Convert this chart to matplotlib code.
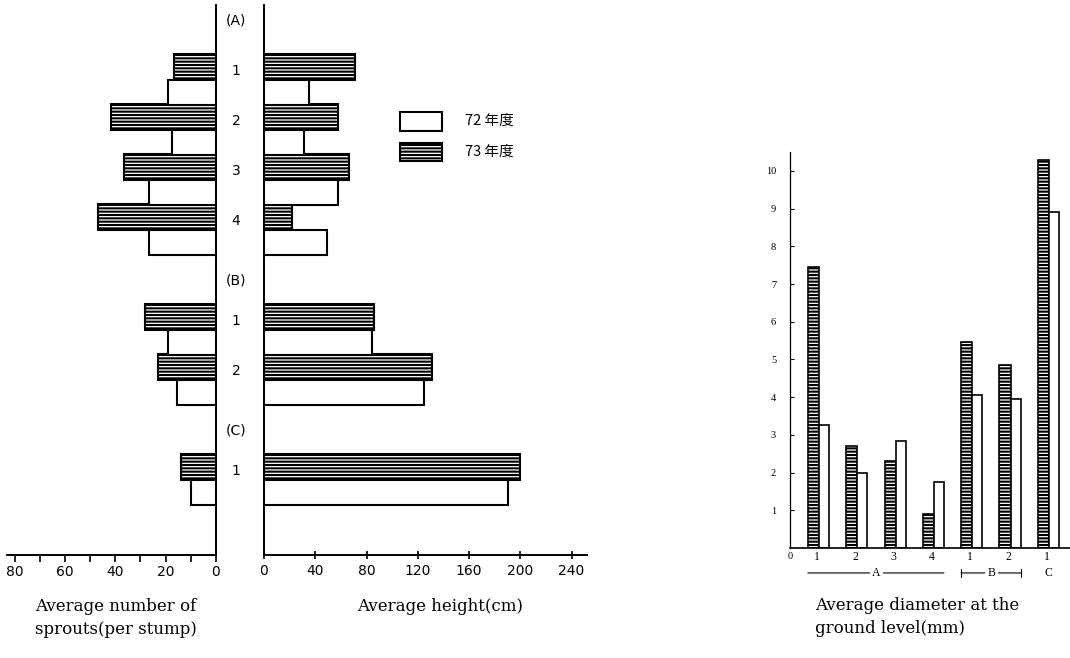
import matplotlib
matplotlib.use("Agg")
import matplotlib.pyplot as plt
from matplotlib.patches import Rectangle
from matplotlib.transforms import blended_transform_factory

plt.rcParams["hatch.linewidth"] = 1.5

# stand groups / plots
groups = ["A", "A", "A", "A", "B", "B", "C"]
plots = ["1", "2", "3", "4", "1", "2", "1"]

# average number of sprouts per stump
sprouts_72 = [19, 17.5, 26.5, 26.5, 19, 15.5, 10]
sprouts_73 = [16.5, 41.5, 36.5, 47, 28, 23, 14]

# average height (cm)
height_72 = [35, 31, 58, 49, 84, 125, 190]
height_73 = [71, 58, 66, 22, 86, 131, 200]

# average diameter at the ground level (mm)
diam_72 = [3.25, 2.0, 2.85, 1.75, 4.05, 3.95, 8.9]
diam_73 = [7.45, 2.7, 2.3, 0.9, 5.45, 4.85, 10.3]

year_labels = ["72 年度", "73 年度"]

W, H = 1070, 658


def px(x0, y0, x1, y1):
    """Pixel box (top-left origin) -> figure fraction rect."""
    return [x0 / W, (H - y1) / H, (x1 - x0) / W, (y1 - y0) / H]


# slot positions: a blank slot between groups (used for the group header)
slots = []
s = 0
for i, g in enumerate(groups):
    if i > 0 and g != groups[i - 1]:
        s += 1
    slots.append(s)
    s += 1
group_first = {}
for g, sl in zip(groups, slots):
    group_first.setdefault(g, sl)

fig = plt.figure(figsize=(W / 100, H / 100), dpi=100)
serif = "DejaVu Serif"
cjk = ["Noto Sans CJK JP", "DejaVu Sans"]
HATCH = "-----"

# ---- left: number of sprouts ----
ax_l = fig.add_axes(px(7, 5, 216, 555))
ax_l.barh([v - 0.26 for v in slots], sprouts_73, height=0.52, color="white",
          edgecolor="black", hatch=HATCH, linewidth=1.5)
ax_l.barh([v + 0.25 for v in slots], sprouts_72, height=0.5, color="white",
          edgecolor="black", linewidth=1.5)
ax_l.set_xlim(83, 0)
ax_l.set_ylim(9.5, -1.5)
ax_l.spines["top"].set_visible(False)
ax_l.spines["left"].set_visible(False)
ax_l.spines["right"].set_linewidth(1.4)
ax_l.spines["bottom"].set_linewidth(1.4)
ax_l.set_yticks([])
ax_l.set_xticks([80, 60, 40, 20, 0])
ax_l.set_xticks([70, 50, 30, 10], minor=True)
ax_l.tick_params(axis="x", which="both", direction="out", length=5, width=1.2, labelsize=10,
                 pad=2)

# ---- middle: height ----
ax_r = fig.add_axes(px(264, 5, 587, 555))
ax_r.barh([v - 0.26 for v in slots], height_73, height=0.52, color="white",
          edgecolor="black", hatch=HATCH, linewidth=1.5)
ax_r.barh([v + 0.25 for v in slots], height_72, height=0.5, color="white",
          edgecolor="black", linewidth=1.5)
ax_r.set_xlim(0, 252)
ax_r.set_ylim(9.5, -1.5)
ax_r.spines["top"].set_visible(False)
ax_r.spines["right"].set_visible(False)
ax_r.spines["left"].set_linewidth(1.4)
ax_r.spines["bottom"].set_linewidth(1.4)
ax_r.set_yticks([])
ax_r.set_xticks([0, 40, 80, 120, 160, 200, 240])
ax_r.tick_params(axis="x", direction="inout", length=6, width=1.2, labelsize=10)

# labels in the gap between the two panels
tr = blended_transform_factory(fig.transFigure, ax_l.transData)
xc = 236 / W
for g, first in group_first.items():
    y = first - 1 - (0.2 if first == 0 else 0)
    ax_l.text(xc, y, f"({g})", transform=tr, ha="center", va="center", fontsize=10,
              clip_on=False)
for sl, p in zip(slots, plots):
    ax_l.text(xc, sl - 0.18, p, transform=tr, ha="center", va="center", fontsize=10,
              clip_on=False)

# legend
fig.patches.append(Rectangle((400 / W, (H - 131) / H), 42 / W, 19 / H, transform=fig.transFigure,
                             facecolor="white", edgecolor="black", linewidth=1.5))
fig.patches.append(Rectangle((400 / W, (H - 161) / H), 42 / W, 18 / H, transform=fig.transFigure,
                             facecolor="white", edgecolor="black", hatch=HATCH, linewidth=1.5))
fig.text(465 / W, (H - 121) / H, year_labels[0], family=cjk, fontsize=10.5, va="center")
fig.text(465 / W, (H - 152) / H, year_labels[1], family=cjk, fontsize=10.5, va="center")

# ---- right: diameter ----
ax_d = fig.add_axes(px(790, 152, 1070, 548))
xs = list(range(len(plots)))
ax_d.bar([x - 0.145 for x in xs], diam_73, width=0.29, color="white", edgecolor="black",
         hatch=HATCH, linewidth=1.2)
ax_d.bar([x + 0.13 for x in xs], diam_72, width=0.26, color="white", edgecolor="black",
         linewidth=1.2)
ax_d.set_xlim(-0.757, 6.55)
ax_d.set_ylim(0, 10.5)
ax_d.spines["top"].set_visible(False)
ax_d.spines["right"].set_visible(False)
ax_d.spines["left"].set_linewidth(0.9)
ax_d.spines["bottom"].set_linewidth(1.2)
ax_d.set_yticks(range(1, 11))
ax_d.tick_params(axis="y", direction="in", length=3, width=0.8, labelsize=7.5, pad=10)
ax_d.set_xticks([x - 0.05 for x in xs])
ax_d.set_xticklabels(plots, family="Liberation Serif")
ax_d.tick_params(axis="x", direction="out", length=0, labelsize=8.5, pad=2)
for lab in ax_d.get_yticklabels():
    lab.set_family("Liberation Serif")
ax_d.text(-0.757, -0.1, "0", ha="center", va="top", fontsize=7.5, family="Liberation Serif")

# group brackets under the diameter chart
ty = -0.063
tr_d = blended_transform_factory(ax_d.transData, ax_d.transAxes)
for g in group_first:
    members = [x for x, gg in zip(xs, groups) if gg == g]
    first, last = members[0], members[-1]
    mid = (first + last) / 2
    x0, x1 = first - 0.29, last + 0.26
    if len(members) > 1:
        style = "|-|" if g == "B" else "-"
        ax_d.annotate("", xy=(x0, ty), xytext=(x1, ty),
                      xycoords=("data", "axes fraction"), textcoords=("data", "axes fraction"),
                      arrowprops=dict(arrowstyle=style, lw=0.8, color="black",
                                      mutation_scale=3, shrinkA=0, shrinkB=0))
    ax_d.text(mid, ty, g, transform=tr_d, ha="center", va="center", fontsize=8.5,
              family="Liberation Serif",
              bbox=dict(facecolor="white", edgecolor="none", pad=1.5), clip_on=False)

# axis titles
fig.text(35 / W, (H - 598) / H, "Average number of\nsprouts(per stump)", family=serif,
         fontsize=12, va="top", ha="left", linespacing=1.45)
fig.text(357 / W, (H - 598) / H, "Average height(cm)", family=serif,
         fontsize=12, va="top", ha="left")
fig.text(815 / W, (H - 597) / H, "Average diameter at the\nground level(mm)", family=serif,
         fontsize=12, va="top", ha="left", linespacing=1.45)

fig.savefig("out.png", dpi=100)
